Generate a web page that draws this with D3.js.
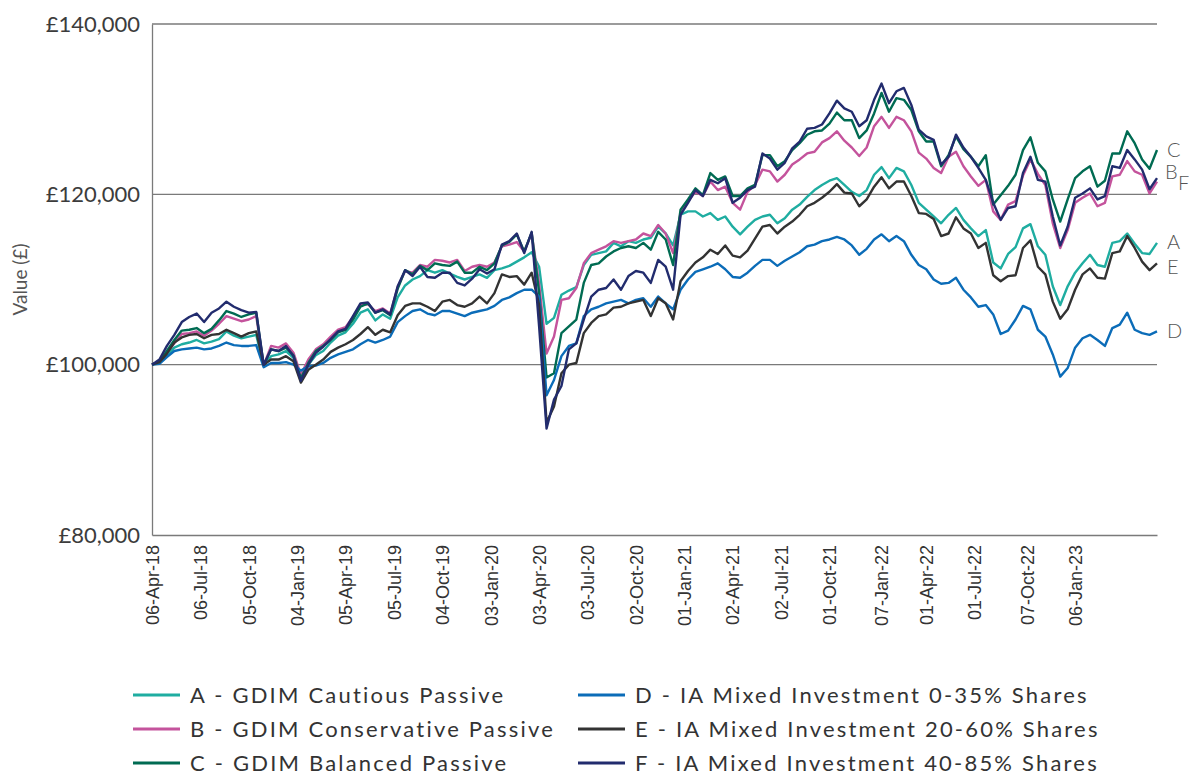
<!DOCTYPE html>
<html>
<head>
<meta charset="utf-8">
<script src="https://cdn.jsdelivr.net/npm/d3@7"></script>
<style>
    body { margin: 0; background: #ffffff; }
    svg { display: block; }
</style>
</head>
<body>
<script>
// Series values in £000s, one reading every two weeks from 06-Apr-18
var valuesA = [100.0, 100.2, 101.1, 102.0, 102.4, 102.6, 102.9, 102.5, 102.7, 103.0, 103.9, 103.4, 103.1, 103.3, 103.5, 99.9,
    101.0, 101.2, 101.6, 100.8, 98.6, 100.0, 101.1, 101.6, 102.6, 103.4, 103.8, 104.8, 106.1,
    106.5, 105.2, 105.9, 105.4, 107.9,
    109.3, 110.0, 110.4, 111.1, 110.8, 111.1, 110.7, 110.3, 110.0, 110.3, 110.6, 110.2, 111.1, 111.3, 111.6, 112.1, 112.6, 113.2, 111.5, 104.8,
    105.5, 108.2, 108.7, 109.1, 111.7, 112.9, 113.1, 113.3, 114.3, 113.9, 114.5, 114.3, 114.7, 114.9, 116.2, 115.4, 114.0,
    117.6, 118.0, 118.0, 117.4, 117.8, 117.0, 117.4, 116.2, 115.3, 116.2, 117.0, 117.4, 117.6, 116.6, 117.2, 118.2, 118.8, 119.7, 120.5,
    121.1, 121.6, 121.9, 121.1, 120.3, 119.8, 120.5, 122.3, 123.2, 121.9, 123.1, 122.7, 121.1, 119.0, 118.2, 117.4, 116.6, 117.6, 118.4, 117.0, 116.0, 115.1, 115.8, 112.0,
    111.3, 113.0, 113.8, 116.0, 116.5, 113.9, 112.9, 109.2, 107.0, 109.2, 110.8, 111.9, 112.9, 111.7, 111.5, 114.3, 114.5, 115.4, 114.2, 113.1, 113.0, 114.3];

var valuesB = [100.0, 100.4, 101.4, 102.5, 103.6, 103.7, 103.9, 103.4, 104.0, 104.8, 105.7, 105.4, 105.1, 105.3, 105.7, 99.9,
    102.2, 102.0, 102.5, 101.4, 98.8, 100.6, 101.8, 102.4, 103.3, 104.1, 104.4, 105.6, 107.0,
    107.1, 106.3, 106.6, 106.0, 109.1,
    111.0, 110.8, 111.7, 111.5, 112.3, 112.2, 112.0, 112.3, 111.0, 111.5, 111.7, 111.5, 112.0, 113.9, 114.1, 114.4, 113.3, 115.4, 109.5, 101.3,
    103.3, 107.6, 107.8, 109.0, 111.9, 113.1, 113.5, 113.9, 114.5, 114.3, 114.5, 114.7, 115.4, 115.1, 116.4, 115.4, 113.1,
    117.8, 119.2, 120.3, 119.8, 121.5, 120.5, 120.9, 119.0, 118.2, 120.3, 121.1, 122.9, 122.7, 121.5, 122.3, 123.5, 124.1, 124.8, 125.0,
    126.1, 126.6, 127.4, 126.3, 125.5, 124.5, 125.5, 128.0, 129.1, 127.8, 129.1, 128.7, 127.4, 124.9, 124.2, 123.1, 122.5, 124.4, 125.0, 123.3, 122.1, 121.0, 121.7, 118.0,
    117.0, 118.8, 119.2, 122.2, 124.1, 122.4, 121.1, 116.6, 113.7, 115.8, 119.0, 119.6, 120.1, 118.6, 119.0, 122.1, 122.3, 123.9, 122.7, 122.3, 120.1, 121.5];

var valuesC = [100.0, 100.4, 101.6, 102.9, 104.0, 104.1, 104.3, 103.7, 104.2, 105.2, 106.3, 106.0, 105.6, 105.9, 106.1, 99.9,
    101.8, 101.6, 102.0, 101.1, 98.4, 100.2, 101.6, 102.2, 102.9, 103.8, 104.1, 105.3, 106.8,
    107.2, 106.1, 106.4, 105.8, 108.9,
    111.1, 110.6, 111.6, 111.1, 111.9, 111.7, 111.6, 112.1, 110.8, 110.8, 111.5, 111.1, 111.9, 114.0, 114.4, 115.3, 113.3, 115.5, 108.5, 98.5,
    99.0, 103.7, 104.5, 105.3, 109.6, 111.7, 111.9, 112.7, 113.3, 113.7, 113.9, 113.7, 114.3, 113.5, 115.6, 114.7, 111.7,
    118.2, 119.4, 120.7, 119.9, 122.5, 121.7, 122.1, 119.8, 119.8, 120.7, 121.1, 124.6, 124.6, 123.3, 123.9, 125.2, 126.0, 127.0, 127.4,
    127.5, 128.3, 129.6, 128.7, 128.7, 126.6, 127.5, 129.5, 131.9, 129.7, 131.3, 131.1, 129.9, 127.4, 126.2, 126.2, 123.3, 124.6, 126.8, 125.3, 124.4, 123.3, 124.6, 118.8,
    119.9, 121.0, 122.3, 125.2, 126.7, 123.7, 122.7, 119.4, 116.8, 119.4, 121.9, 122.7, 123.3, 120.9, 121.6, 124.8, 124.8, 127.4, 126.0, 124.1, 123.0, 125.2];

var valuesD = [100.0, 100.1, 100.9, 101.6, 101.8, 101.9, 102.0, 101.8, 101.9, 102.2, 102.6, 102.3, 102.2, 102.2, 102.3, 99.7,
    100.2, 100.2, 100.3, 100.0, 99.3, 99.8, 99.9, 100.2, 100.8, 101.2, 101.5, 101.8, 102.4,
    102.9, 102.6, 102.9, 103.3, 105.0,
    105.7, 106.3, 106.5, 106.0, 105.8, 106.3, 106.3, 106.0, 105.7, 106.1, 106.3, 106.5, 106.9, 107.6, 107.9, 108.4, 108.8, 108.8, 108.0, 96.4,
    98.2, 101.0, 102.2, 102.5, 105.7, 106.5, 106.8, 107.2, 107.4, 107.6, 107.2, 107.6, 107.8, 106.8, 108.0, 107.2, 106.5,
    108.8, 110.0, 110.9, 111.2, 111.5, 111.9, 111.2, 110.3, 110.2, 110.8, 111.6, 112.3, 112.3, 111.6, 112.2, 112.7, 113.2, 113.9, 114.1,
    114.5, 114.7, 115.0, 114.7, 114.0, 112.9, 113.6, 114.7, 115.3, 114.5, 115.1, 114.5, 112.9, 111.7, 111.2, 110.0, 109.5, 109.6, 110.2, 108.8, 107.9, 106.8, 107.0, 105.9,
    103.6, 104.0, 105.3, 106.9, 106.5, 104.1, 103.3, 101.2, 98.6, 99.6, 102.0, 103.1, 103.5, 102.9, 102.2, 104.3, 104.7, 106.1, 104.1, 103.7, 103.5, 103.9];

var valuesE = [100.0, 100.3, 101.3, 102.6, 103.2, 103.5, 103.6, 103.1, 103.5, 103.6, 104.1, 103.7, 103.3, 103.7, 103.9, 100.0,
    100.6, 100.6, 101.0, 100.4, 97.9, 99.4, 100.0, 100.6, 101.5, 102.0, 102.4, 102.9, 103.6,
    104.4, 103.5, 104.1, 103.8, 105.8,
    106.9, 107.2, 107.2, 106.8, 106.3, 107.4, 107.6, 107.0, 106.8, 107.2, 108.0, 107.2, 108.4, 110.6, 110.3, 110.4, 109.4, 110.8, 107.0, 93.2,
    95.1, 99.0, 100.0, 100.2, 103.7, 104.9, 105.7, 105.9, 106.7, 106.8, 107.2, 107.4, 107.6, 105.7, 107.8, 107.2, 105.3,
    109.8, 111.0, 112.0, 112.6, 113.5, 113.0, 114.0, 112.8, 112.6, 113.4, 114.8, 116.2, 116.4, 115.4, 116.2, 116.8, 117.6, 118.6, 119.0,
    119.6, 120.3, 121.2, 120.2, 120.1, 118.6, 119.4, 120.9, 122.0, 120.7, 121.5, 121.5, 119.8, 117.8, 117.7, 117.1, 115.1, 115.4, 117.3, 116.0, 115.4, 113.7, 114.3, 110.5,
    109.8, 110.4, 110.5, 113.7, 114.6, 111.5, 110.6, 107.4, 105.4, 106.5, 108.8, 110.6, 111.3, 110.2, 110.1, 113.1, 113.3, 115.1, 113.7, 112.1, 111.1, 111.9];

var valuesF = [100.0, 100.6, 102.2, 103.5, 105.0, 105.6, 106.0, 105.0, 106.1, 106.6, 107.4, 106.8, 106.4, 106.1, 106.2, 100.0,
    101.8, 101.6, 102.2, 101.0, 98.1, 100.0, 101.4, 102.1, 103.0, 103.9, 104.2, 105.7, 107.2,
    107.3, 106.1, 106.5, 105.9, 109.2,
    111.1, 110.4, 111.5, 110.3, 110.2, 110.8, 110.8, 109.6, 109.3, 110.1, 111.2, 110.7, 111.2, 114.1, 114.5, 115.4, 113.1, 115.6, 104.5, 92.5,
    95.9, 97.5, 101.8, 102.5, 105.3, 108.0, 108.8, 109.0, 110.0, 108.8, 110.4, 111.0, 110.8, 109.6, 112.3, 111.5, 108.8,
    117.6, 119.0, 120.5, 119.8, 121.7, 121.3, 121.9, 119.0, 119.6, 120.5, 120.9, 124.8, 124.2, 122.9, 123.7, 125.4, 126.2, 127.7, 127.8,
    128.2, 129.5, 131.0, 130.1, 129.7, 128.0, 128.7, 131.1, 133.0, 130.7, 132.1, 132.5, 130.5, 127.6, 126.8, 126.4, 123.5, 124.4, 127.0, 125.5, 124.4, 123.1, 121.7, 119.0,
    117.0, 118.4, 118.6, 122.5, 124.4, 121.7, 121.5, 117.4, 114.0, 116.2, 119.6, 120.1, 120.7, 119.4, 119.8, 123.3, 123.1, 125.2, 124.1, 122.9, 120.6, 121.9];

var seriesKeys = ["A", "B", "C", "D", "E", "F"];
var seriesNames = [
    "A - GDIM Cautious Passive",
    "B - GDIM Conservative Passive",
    "C - GDIM Balanced Passive",
    "D - IA Mixed Investment 0-35% Shares",
    "E - IA Mixed Investment 20-60% Shares",
    "F - IA Mixed Investment 40-85% Shares"
];
var seriesColors = ["#1fada1", "#c4539c", "#006b52", "#0b6cb8", "#333333", "#222c6e"];

var xTickLabels = ["06-Apr-18", "06-Jul-18", "05-Oct-18", "04-Jan-19", "05-Apr-19", "05-Jul-19", "04-Oct-19",
    "03-Jan-20", "03-Apr-20", "03-Jul-20", "02-Oct-20", "01-Jan-21", "02-Apr-21", "02-Jul-21", "01-Oct-21",
    "07-Jan-22", "01-Apr-22", "01-Jul-22", "07-Oct-22", "06-Jan-23"];
var yTicks = [80, 100, 120, 140];

// Some boundaries for the plot area
var margin = { top: 24, right: 32, bottom: 241, left: 152 };
var width = 1189 - margin.left - margin.right;
var height = 776 - margin.top - margin.bottom;

var svg = d3.select("body").append("svg")
    .attr("width", width + margin.left + margin.right)
    .attr("height", height + margin.top + margin.bottom)
    .style("font-family", "Lato, 'Open Sans', sans-serif");

var g = svg.append("g")
    .attr("transform", "translate(" + margin.left + "," + margin.top + ")");

var parseDate = d3.timeParse("%d-%b-%y");
var startDate = parseDate("06-Apr-18");
var dates = valuesA.map(function (d, i) { return d3.timeDay.offset(startDate, i * 14); });

var series = [valuesA, valuesB, valuesC, valuesD, valuesE, valuesF].map(function (vals, i) {
    return {
        key: seriesKeys[i],
        name: seriesNames[i],
        color: seriesColors[i],
        values: vals.map(function (v, j) { return { date: dates[j], value: v }; })
    };
});

var xScale = d3.scaleTime().domain(d3.extent(dates)).range([0, width]);
var yScale = d3.scaleLinear().domain([80, 140]).range([height, 0]);

// Gridlines at 100k, 120k, 140k
g.selectAll("line.grid")
    .data(yTicks.slice(1))
    .enter().append("line")
    .attr("class", "grid")
    .attr("x1", 0).attr("x2", width)
    .attr("y1", function (d) { return yScale(d); })
    .attr("y2", function (d) { return yScale(d); })
    .attr("stroke", "#7a7a7a")
    .attr("stroke-width", 1.3);

// Y axis
var yAxis = g.append("g")
    .call(d3.axisLeft(yScale)
        .tickValues(yTicks)
        .tickSize(0)
        .tickPadding(12)
        .tickFormat(function (d) { return "£" + d3.format(",")(d * 1000); }));
yAxis.select(".domain").attr("stroke", "#7a7a7a").attr("stroke-width", 1.3);
yAxis.selectAll("text")
    .attr("fill", "#3c3c3c")
    .style("font-size", "22px")
    .style("font-family", "Lato, sans-serif");

// X axis
var xAxis = g.append("g")
    .attr("transform", "translate(0," + height + ")")
    .call(d3.axisBottom(xScale)
        .tickValues(xTickLabels.map(parseDate))
        .tickSize(0)
        .tickFormat(d3.timeFormat("%d-%b-%y")));
xAxis.select(".domain").attr("stroke", "#7a7a7a").attr("stroke-width", 1.3);
xAxis.selectAll("text")
    .attr("transform", "rotate(-90)")
    .attr("text-anchor", "end")
    .attr("x", -10)
    .attr("y", 0)
    .attr("dy", "0.35em")
    .attr("fill", "#333333")
    .style("font-size", "18px")
    .style("font-family", "'Liberation Sans', Arial, sans-serif");

// Y axis title
svg.append("text")
    .attr("transform", "translate(20," + (margin.top + height / 2) + ") rotate(-90)")
    .attr("text-anchor", "middle")
    .attr("dy", "0.35em")
    .attr("fill", "#555555")
    .style("font-size", "19px")
    .text("Value (£)");

// Lines
var line = d3.line()
    .x(function (d) { return xScale(d.date); })
    .y(function (d) { return yScale(d.value); });

g.selectAll("path.series")
    .data(series)
    .enter().append("path")
    .attr("class", "series")
    .attr("fill", "none")
    .attr("stroke", function (d) { return d.color; })
    .attr("stroke-width", 2.4)
    .attr("stroke-linejoin", "round")
    .attr("d", function (d) { return line(d.values); });

// End labels, nudged where they would overlap
var labelNudge = { A: [10, -1], B: [8, -10], C: [10, 0], D: [10, 0], E: [10, 4], F: [21, 5] };
g.selectAll("text.end-label")
    .data(series)
    .enter().append("text")
    .attr("class", "end-label")
    .attr("x", function (d) { return xScale(d.values[d.values.length - 1].date) + labelNudge[d.key][0]; })
    .attr("y", function (d) { return yScale(d.values[d.values.length - 1].value) + labelNudge[d.key][1]; })
    .attr("dy", "0.35em")
    .attr("fill", "#555555")
    .style("font-size", "20px")
    .style("font-weight", 300)
    .text(function (d) { return d.key; });

// Legend, two columns of three
var legend = svg.append("g").attr("transform", "translate(133,695)");
var legendItem = legend.selectAll("g.item")
    .data(series)
    .enter().append("g")
    .attr("class", "item")
    .attr("transform", function (d, i) {
        return "translate(" + (Math.floor(i / 3) * 445) + "," + ((i % 3) * 34) + ")";
    });

legendItem.append("line")
    .attr("x1", 0).attr("x2", 47)
    .attr("stroke", function (d) { return d.color; })
    .attr("stroke-width", 3);

legendItem.append("text")
    .attr("x", 57)
    .attr("dy", "0.35em")
    .attr("fill", "#333333")
    .style("font-size", "22px")
    .style("letter-spacing", "2.2px")
    .text(function (d) { return d.name; });
</script>
</body>
</html>
